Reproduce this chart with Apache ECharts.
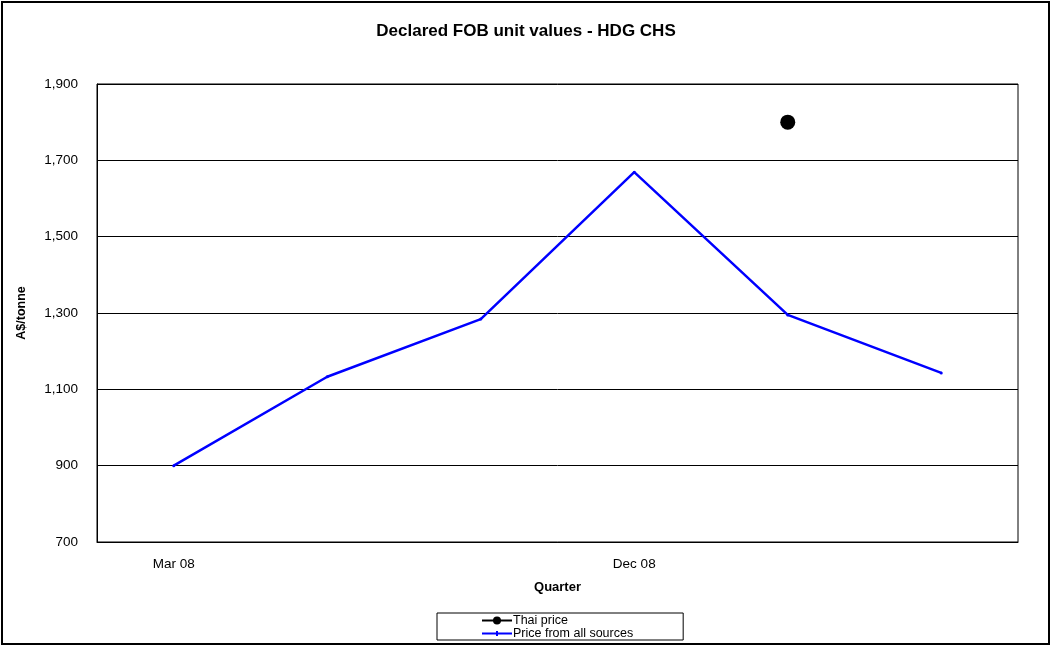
<!DOCTYPE html>
<html><head><meta charset="utf-8">
<script src="https://cdn.jsdelivr.net/npm/echarts@6/dist/echarts.min.js"></script>
<style>html,body{margin:0;padding:0;background:#fff}#c{width:1052px;height:646px}</style>
</head><body><div id="c"></div>
<script>
var categories = ['Mar 08','Jun 08','Sep 08','Dec 08','Mar 09','Jun 09'];
var thaiPrice = [null, null, null, null, 1800, null];
var allSources = [900, 1133, 1284, 1669, 1295, 1143];
var yTicks = {min: 700, max: 1900, interval: 200};
var chart = echarts.init(document.getElementById('c'));
var font = 'Liberation Sans, Arial, sans-serif';
chart.setOption({
  animation: false,
  backgroundColor: '#fff',
  textStyle: {fontFamily: font},
  title: {text: 'Declared FOB unit values - HDG CHS', left: 'center', top: 18,
    textStyle: {fontSize: 17, fontWeight: 'bold', color: '#000', fontFamily: font}},
  grid: {left: 97, right: 34, top: 84, bottom: 104, show: true, borderColor: '#000', borderWidth: 1},
  legend: {orient: 'vertical', left: 437, top: 613, itemGap: 0, itemWidth: 30, itemHeight: 10,
    padding: [1, 50, 0, 44], borderColor: '#000', borderWidth: 1,
    textStyle: {fontSize: 12.5, color: '#000', fontFamily: font, padding: [0,0,0,-4]},
    data: [
      {name: 'Thai price'},
      {name: 'Price from all sources', icon: 'path://M0,4 L30,4 L30,6 L0,6 Z M14,2.5 L16,2.5 L16,7.5 L14,7.5 Z'}
    ]},
  xAxis: {type: 'category', data: categories, name: 'Quarter', nameLocation: 'middle', nameGap: 39,
    nameTextStyle: {fontSize: 13, fontWeight: 'bold', color: '#000'},
    axisLine: {lineStyle: {color: '#000', width: 1}}, axisTick: {show: false},
    axisLabel: {interval: 2, color: '#000', fontSize: 13.5, margin: 15}},
  yAxis: {type: 'value', min: yTicks.min, max: yTicks.max, interval: yTicks.interval,
    name: 'A$/tonne', nameLocation: 'middle', nameGap: 69, nameRotate: 90,
    nameTextStyle: {fontSize: 12.5, fontWeight: 'bold', color: '#000'},
    axisLine: {show: true, lineStyle: {color: '#000'}}, axisTick: {show: false},
    splitLine: {lineStyle: {color: '#000', width: 1}},
    axisLabel: {color: '#000', fontSize: 13.5, margin: 19,
      formatter: function(v){ return v.toLocaleString('en-US'); }}},
  series: [
    {name: 'Thai price', type: 'line', data: thaiPrice, symbol: 'circle', symbolSize: 15,
      itemStyle: {color: '#000'}, lineStyle: {color: '#000', width: 2}},
    {name: 'Price from all sources', type: 'line', data: allSources, symbol: 'circle', symbolSize: 3,
      itemStyle: {color: '#0000ff'}, lineStyle: {color: '#0000ff', width: 2.5}}
  ],
  graphic: [{type: 'rect', shape: {x: 2, y: 2, width: 1047, height: 642}, silent: true,
    style: {fill: null, stroke: '#000', lineWidth: 2}}]
});
</script></body></html>
